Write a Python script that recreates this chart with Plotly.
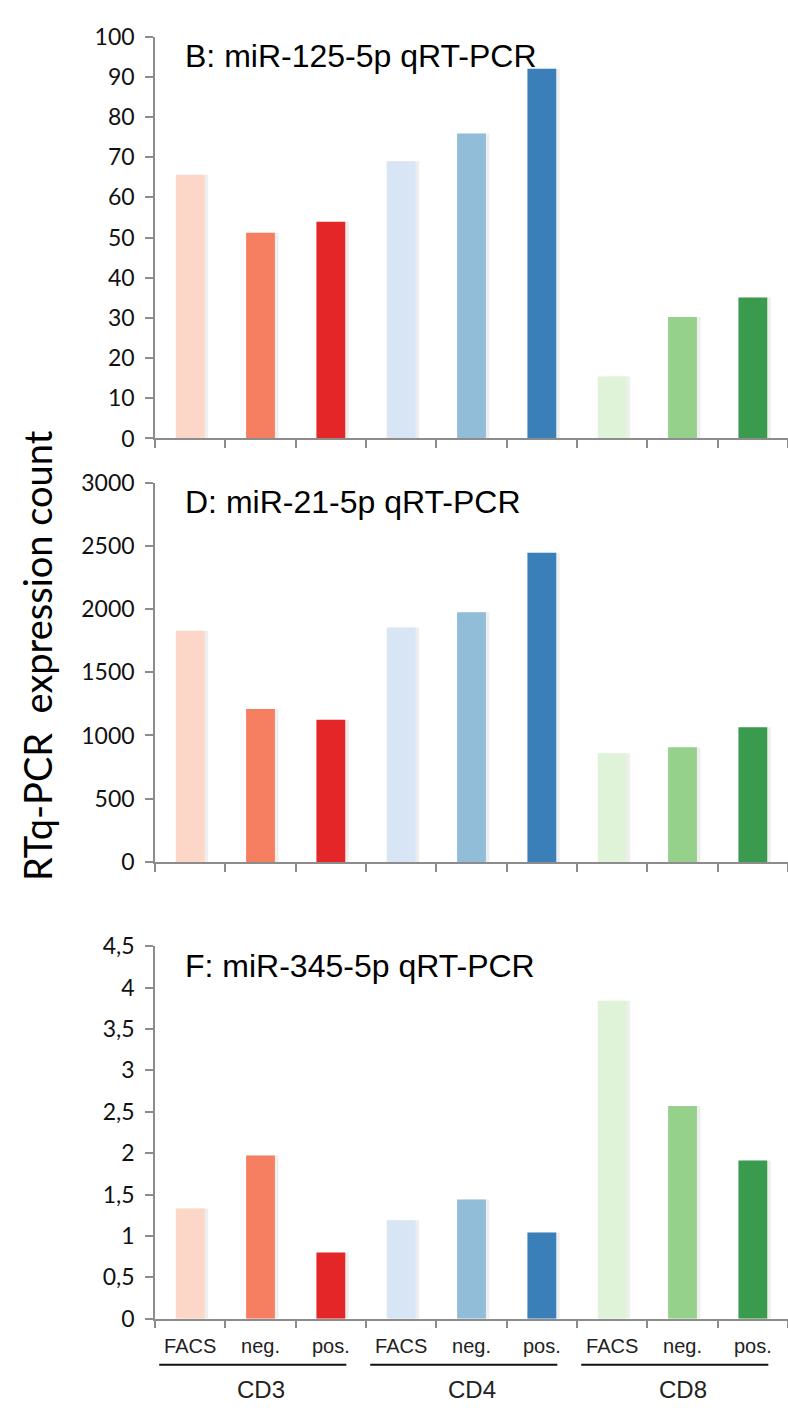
import plotly.graph_objects as go
from plotly.subplots import make_subplots

W, H = 788, 1415

categories = ["FACS", "neg.", "pos.", "FACS", "neg.", "pos.", "FACS", "neg.", "pos."]
groups = ["CD3", "CD4", "CD8"]
colors = ["#fcd6c6", "#f67f62", "#e42629",
          "#d8e5f4", "#92bdd8", "#3a7fb8",
          "#dff3d9", "#95d18a", "#3a9b4e"]

mir125 = [65.6, 51.2, 53.9, 69.0, 75.9, 92.0, 15.4, 30.2, 35.1]
mir21 = [1829, 1209, 1124, 1853, 1975, 2445, 860, 906, 1065]
mir345 = [1.33, 1.97, 0.80, 1.19, 1.44, 1.04, 3.84, 2.57, 1.91]

titles = ["B: miR-125-5p qRT-PCR", "D: miR-21-5p qRT-PCR", "F: miR-345-5p qRT-PCR"]
y_ranges = [(0, 100), (0, 3000), (0, 4.5)]
y_dticks = [10, 500, 0.5]
y_label = "RTq-PCR  expression count"

# pixel layout (top, bottom) of each plot area
panels_px = [(22, 432), (477, 864), (950, 1330)]
x_left_px = 155
BAR_W = 0.41

fig = make_subplots(rows=3, cols=1)
series = [mir125, mir21, mir345]
xs = list(range(len(categories)))

for i, vals in enumerate(series):
    r = i + 1
    # soft drop shadow
    fig.add_trace(go.Bar(x=xs, y=vals, width=BAR_W, offset=-BAR_W / 2 + 0.05,
                         marker=dict(color="rgba(120,120,120,0.13)", line=dict(width=0)),
                         hoverinfo="skip", showlegend=False), row=r, col=1)
    fig.add_trace(go.Bar(x=xs, y=vals, width=BAR_W, offset=-BAR_W / 2,
                         marker=dict(color=colors, line=dict(width=0)),
                         showlegend=False), row=r, col=1)

for i in range(3):
    r = i + 1
    top, bot = panels_px[i]
    dom = [1 - bot / H, 1 - top / H]
    last = (i == 2)
    fig.update_yaxes(row=r, col=1, domain=dom, range=list(y_ranges[i]),
                     dtick=y_dticks[i], tick0=0, showgrid=False, zeroline=False,
                     showline=True, linecolor="#8c8c8c", linewidth=1.5,
                     ticks="outside", ticklen=8, tickcolor="#8c8c8c", tickwidth=1.5,
                     ticklabelstandoff=6,
                     tickfont=dict(family="Lato, Carlito, sans-serif", size=23, color="#111"),
                     exponentformat="none")
    fig.update_xaxes(row=r, col=1, domain=[x_left_px / W, 1], range=[-0.5, 8.5],
                     showgrid=False, zeroline=False, showline=True,
                     linecolor="#8c8c8c", linewidth=1.5,
                     tickmode="array", tickvals=xs,
                     ticktext=categories if last else [""] * 9,
                     showticklabels=last, ticks="",
                     ticklabelstandoff=9,
                     tickfont=dict(family="Liberation Sans, Arial, sans-serif",
                                   size=20, color="#222"),
                     minor=dict(tickmode="linear", tick0=-0.5, dtick=1, ticks="outside",
                                ticklen=8, tickcolor="#8c8c8c", tickwidth=1.5))
    fig.add_annotation(text=titles[i], xref="paper", yref="paper",
                       x=183 / W, y=1 - (top + 20) / H, xanchor="left", yanchor="middle",
                       showarrow=False,
                       font=dict(family="Liberation Sans, Arial, sans-serif", size=32, color="#000"))

# decimal comma
fig.update_layout(separators=",.")

# group labels and lines under bottom chart
line_y = 1 - 1377 / H
for g, name in enumerate(groups):
    c = 3 * g + 1
    fig.add_shape(type="line", xref="x3", yref="paper",
                  x0=c - 1.44, x1=c + 1.22, y0=line_y, y1=line_y,
                  line=dict(color="#111", width=2))
    fig.add_annotation(text=name, xref="x3", yref="paper", x=c, y=1 - 1402 / H,
                       xanchor="center", yanchor="middle", showarrow=False,
                       font=dict(family="Liberation Sans, Arial, sans-serif", size=24, color="#222"))

fig.add_annotation(text=y_label, xref="paper", yref="paper", x=37 / W, y=1 - 654 / H,
                   textangle=-90, xanchor="center", yanchor="middle", showarrow=False,
                   font=dict(family="Lato, Carlito, sans-serif", size=38, color="#000"))

fig.update_layout(width=W, height=H, margin=dict(l=0, r=0, t=0, b=0),
                  plot_bgcolor="white", paper_bgcolor="white", barmode="overlay")

fig.write_html("out.html")
